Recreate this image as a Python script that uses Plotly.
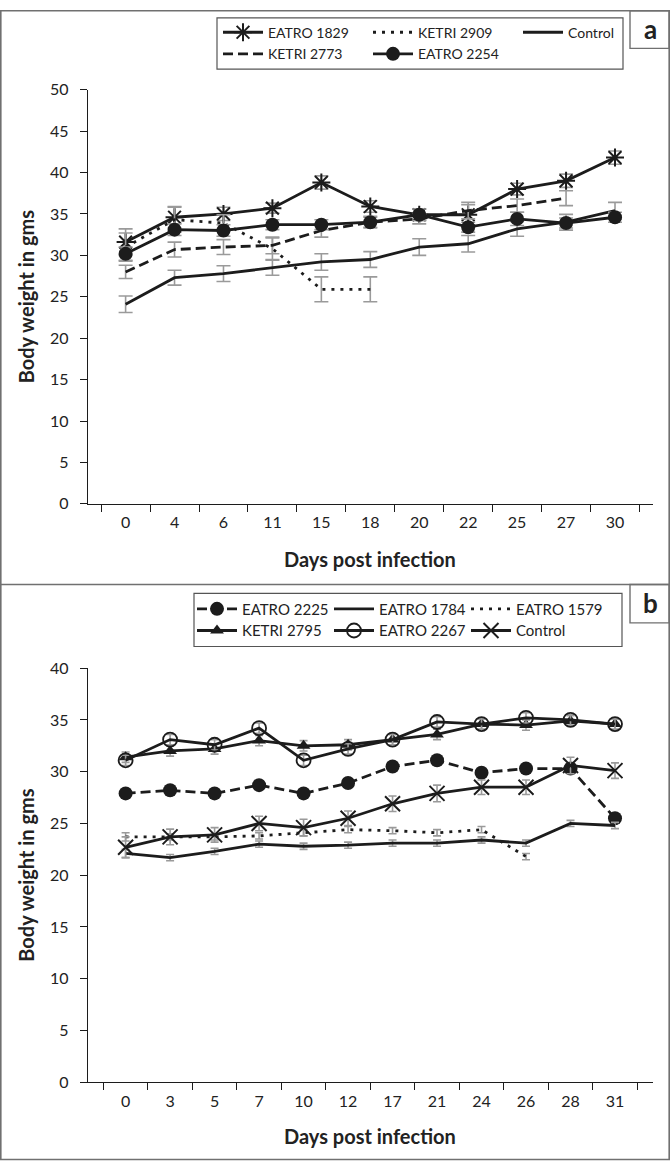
import plotly.graph_objects as go

# ---------------- data ----------------
days_a = ["0", "4", "6", "11", "15", "18", "20", "22", "25", "27", "30"]
eatro1829 = [31.6, 34.6, 35.0, 35.7, 38.8, 35.9, 34.9, 34.9, 38.0, 39.0, 41.8]
eatro1829_err = [1.6, 1.3, 0.8, 0.6, 0.8, 0.7, 0.7, 1.2, 0.7, 0.8, 0.8]
ketri2909 = [31.0, 34.3, 33.9, 30.8, 25.9, 25.9]
ketri2909_err = [1.7, 1.5, 1.0, 1.3, 1.5, 1.5]
control_a = [24.1, 27.3, 27.8, 28.5, 29.2, 29.5, 31.0, 31.4, 33.2, 34.0, 35.4]
control_a_err = [1.0, 0.9, 0.95, 0.9, 1.0, 0.95, 1.0, 1.0, 0.9, 0.95, 1.0]
ketri2773 = [28.0, 30.7, 31.0, 31.2, 33.0, 34.0, 34.4, 35.4, 36.0, 36.9]
ketri2773_err = [0.8, 0.9, 0.9, 1.0, 0.8, 0.7, 0.6, 1.0, 0.8, 0.9]
eatro2254 = [30.2, 33.1, 33.0, 33.7, 33.7, 34.0, 34.9, 33.4, 34.4, 33.9, 34.6]
eatro2254_err = [0.8, 0.7, 0.7, 0.6, 0.6, 0.6, 0.7, 0.6, 0.8, 0.6, 0.6]

days_b = ["0", "3", "5", "7", "10", "12", "17", "21", "24", "26", "28", "31"]
eatro2225 = [27.9, 28.2, 27.9, 28.7, 27.9, 28.9, 30.5, 31.1, 29.9, 30.3, 30.3, 25.5]
eatro2225_err = [0.4, 0.4, 0.4, 0.4, 0.4, 0.4, 0.4, 0.4, 0.4, 0.4, 0.4, 0.4]
eatro1784 = [22.1, 21.7, 22.3, 23.0, 22.8, 22.9, 23.1, 23.1, 23.4, 23.1, 25.0, 24.8]
eatro1784_err = [0.4, 0.3, 0.3, 0.3, 0.3, 0.3, 0.3, 0.3, 0.3, 0.3, 0.3, 0.3]
eatro1579 = [23.7, 23.7, 23.7, 23.8, 24.1, 24.4, 24.3, 24.1, 24.4, 21.8]
eatro1579_err = [0.4, 0.3, 0.3, 0.3, 0.3, 0.3, 0.3, 0.3, 0.3, 0.3]
ketri2795 = [31.4, 32.0, 32.2, 33.0, 32.5, 32.6, 33.1, 33.6, 34.6, 34.5, 34.9, 34.6]
ketri2795_err = [0.5, 0.5, 0.5, 0.5, 0.5, 0.5, 0.5, 0.5, 0.5, 0.5, 0.5, 0.5]
eatro2267 = [31.1, 33.1, 32.6, 34.2, 31.1, 32.2, 33.1, 34.8, 34.6, 35.2, 35.0, 34.6]
eatro2267_err = [0.5, 0.5, 0.5, 0.5, 0.5, 0.5, 0.5, 0.5, 0.5, 0.5, 0.5, 0.5]
control_b = [22.7, 23.7, 23.9, 25.0, 24.6, 25.5, 26.9, 27.9, 28.5, 28.5, 30.6, 30.1]
control_b_err = [1.0, 0.75, 0.7, 0.7, 0.8, 0.7, 0.75, 0.8, 0.7, 0.7, 0.8, 0.75]

yticks_a = [0, 5, 10, 15, 20, 25, 30, 35, 40, 45, 50]
yticks_b = [0, 5, 10, 15, 20, 25, 30, 35, 40]

# ---------------- helpers ----------------
W, H = 670, 1170
INK = "#1c1c1c"
ERR = "#9a9a9a"
FONT = "Lato"


def px(x):
    return x / W


def py(y):
    return 1 - y / H


def series(x, y, err, name, xa, ya, legend, dash="solid", symbol=None,
           msize=14, cap=7, mline=None):
    mode = "lines+markers" if symbol else "lines"
    marker = dict(size=msize, color=INK, symbol=symbol or "circle")
    if mline:
        marker["line"] = mline
    return go.Scatter(
        x=x[:len(y)], y=y, name=name, mode=mode, xaxis=xa, yaxis=ya,
        legend=legend,
        line=dict(color=INK, width=2.8, dash=dash),
        marker=marker,
        error_y=dict(type="data", array=err, color=ERR, thickness=1.6,
                     width=cap, visible=True),
        hoverinfo="skip",
    )


fig = go.Figure()

DASH_A = "10px,5px"
DOT = "3px,6px"

# panel a
fig.add_trace(series(days_a, eatro1829, eatro1829_err, "EATRO 1829", "x", "y",
                     "legend", symbol="asterisk-open", msize=15,
                     mline=dict(color=INK, width=2)))
fig.add_trace(series(days_a, ketri2909, ketri2909_err, "KETRI 2909", "x", "y",
                     "legend", dash=DOT))
fig.add_trace(series(days_a, control_a, control_a_err, "Control", "x", "y",
                     "legend"))
fig.add_trace(series(days_a, ketri2773, ketri2773_err, "KETRI 2773", "x", "y",
                     "legend2", dash=DASH_A))
fig.add_trace(series(days_a, eatro2254, eatro2254_err, "EATRO 2254", "x", "y",
                     "legend2", symbol="circle", msize=14))

# panel b
fig.add_trace(series(days_b, eatro2225, eatro2225_err, "EATRO 2225", "x2", "y2",
                     "legend3", dash=DASH_A, symbol="circle", msize=14, cap=4))
fig.add_trace(series(days_b, eatro1784, eatro1784_err, "EATRO 1784", "x2", "y2",
                     "legend3", cap=4))
fig.add_trace(series(days_b, eatro1579, eatro1579_err, "EATRO 1579", "x2", "y2",
                     "legend3", dash=DOT, cap=4))
fig.add_trace(series(days_b, ketri2795, ketri2795_err, "KETRI 2795", "x2", "y2",
                     "legend4", symbol="triangle-up", msize=12, cap=4))
fig.add_trace(series(days_b, eatro2267, eatro2267_err, "EATRO 2267", "x2", "y2",
                     "legend4", symbol="circle-open", msize=14, cap=4,
                     mline=dict(color=INK, width=1.8)))
fig.add_trace(series(days_b, control_b, control_b_err, "Control", "x2", "y2",
                     "legend4", symbol="x-thin-open", msize=15, cap=4,
                     mline=dict(color=INK, width=2)))

# ---------------- axes ----------------
XDOM = [px(88), px(652.6)]
xcommon = dict(type="category", tickson="boundaries", ticks="outside",
               ticklen=7, tickwidth=1.2, tickcolor=INK, showline=True,
               linecolor=INK, linewidth=1.4, showgrid=False, zeroline=False,
               tickfont=dict(family=FONT, size=16, color="#222"),
               ticklabelstandoff=4, fixedrange=True)
ycommon = dict(ticks="outside", ticklen=7, tickwidth=1.2, tickcolor=INK,
               showline=True, linecolor=INK, linewidth=1.4, showgrid=False,
               zeroline=False, tickfont=dict(family=FONT, size=16, color="#222"),
               ticklabelstandoff=8, fixedrange=True)

fig.update_layout(
    xaxis=dict(domain=XDOM, anchor="y", categoryorder="array",
               categoryarray=days_a, **xcommon),
    yaxis=dict(domain=[py(502), py(81)], anchor="x", range=[0, 50],
               tickvals=yticks_a, **ycommon),
    xaxis2=dict(domain=XDOM, anchor="y2", categoryorder="array",
                categoryarray=days_b, **xcommon),
    yaxis2=dict(domain=[py(1090), py(669)], anchor="x2", range=[0, 40],
                tickvals=yticks_b, **ycommon),
)

# ---------------- legends ----------------
def leg(x, y, size, ew):
    return dict(orientation="h", x=px(x), y=py(y), xanchor="left",
                yanchor="middle", bgcolor="rgba(0,0,0,0)", borderwidth=0,
                itemwidth=40, entrywidthmode="pixels", entrywidth=ew,
                font=dict(family=FONT, size=size, color="#222"),
                traceorder="normal", itemclick=False, itemdoubleclick=False)


fig.update_layout(
    legend=leg(218, 23, 14, 95),
    legend2=leg(218, 45, 14, 95),
    legend3=leg(192, 609, 15, 82),
    legend4=leg(192, 631, 15, 82),
)

# ---------------- frames, labels ----------------
FRAME = "#707070"
shapes = [
    dict(type="rect", xref="paper", yref="paper", x0=px(0.8), x1=px(669.2),
         y0=py(0.8), y1=py(1168.5), line=dict(color=FRAME, width=1.6)),
    dict(type="line", xref="paper", yref="paper", x0=px(0), x1=px(670),
         y0=py(584), y1=py(584), line=dict(color=FRAME, width=1.6)),
    dict(type="rect", xref="paper", yref="paper", x0=px(630), x1=px(669.2),
         y0=py(0.8), y1=py(39), line=dict(color=FRAME, width=1.4)),
    dict(type="rect", xref="paper", yref="paper", x0=px(630), x1=px(669.2),
         y0=py(584), y1=py(623), line=dict(color=FRAME, width=1.4)),
    dict(type="rect", xref="paper", yref="paper", x0=px(217), x1=px(623),
         y0=py(8), y1=py(60), line=dict(color="#555", width=1.2)),
    dict(type="rect", xref="paper", yref="paper", x0=px(194), x1=px(622),
         y0=py(593), y1=py(647), line=dict(color="#555", width=1.2)),
]

TITLE_FONT = dict(family=FONT, size=20, color="#222")


def note(text, x, y, font, angle=0):
    return dict(text=text, x=px(x), y=py(y), xref="paper", yref="paper",
                xanchor="center", yanchor="middle", textangle=angle,
                showarrow=False, font=font)


annotations = [
    note("<b>a</b>", 650, 19, dict(family=FONT, size=26, color="#222")),
    note("<b>b</b>", 650, 603, dict(family=FONT, size=26, color="#222")),
    note("<b>Days post infection</b>", 370, 558, TITLE_FONT),
    note("<b>Days post infection</b>", 370, 1145, TITLE_FONT),
    note("<b>Body weight in gms</b>", 26, 291, TITLE_FONT, -90),
    note("<b>Body weight in gms</b>", 26, 879, TITLE_FONT, -90),
]

fig.update_layout(
    width=W, height=H, margin=dict(l=0, r=0, t=0, b=0),
    paper_bgcolor="white", plot_bgcolor="white",
    shapes=shapes, annotations=annotations, showlegend=True,
)

fig.write_html("out.html", config={"displayModeBar": False},
               post_script="document.body.style.margin='0';"
                           "document.body.style.overflow='hidden';")
